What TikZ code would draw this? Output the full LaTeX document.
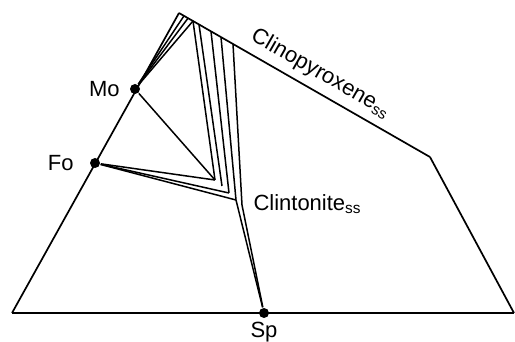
\documentclass[tikz,border=0pt]{standalone}
\usepackage{fontspec}
\setmainfont{Liberation Sans}
\usetikzlibrary{positioning}

\begin{document}
\begin{tikzpicture}[x=0.5pt, y=-0.5pt, font=\fontsize{11}{13}\selectfont,
    line width=0.85pt, line join=round,
    phase/.style={circle, fill, inner sep=0pt, minimum size=5pt},
    tie/.style={line width=0.75pt}]
  \useasboundingbox (0,0) rectangle (515,342);
  % outline of the section
  \coordinate (bl) at (12,313);
  \coordinate (br) at (514,313);
  \coordinate (apex) at (179,13);
  \coordinate (cpx) at (430,157);
  % phases
  \node[phase, label={[label distance=1pt]left:Mo}] (mo) at (135,89) {};
  \node[phase, label={[label distance=4pt]left:Fo}] (fo) at (95,163) {};
  \node[phase, label={[inner sep=1pt, label distance=0pt]below:Sp}] (sp) at (264,313) {};
  % clinopyroxene ss limbs
  \coordinate (m1) at (184,15.9);
  \coordinate (m2) at (188,18.2);
  \coordinate (p1) at (193,21);
  \coordinate (p2) at (199,24.5);
  \coordinate (p3) at (211,31.4);
  \coordinate (p4) at (221,37.1);
  \coordinate (p5) at (233,44);
  % clintonite ss points
  \coordinate (c1) at (215,180);
  \coordinate (c2) at (222,186);
  \coordinate (c3) at (229,193);
  \coordinate (c4) at (236,200);
  \coordinate (c5) at (242,205);
  \node[right] (cln) at (246,204) {Clintonite\textsubscript{ss}};

  \draw (bl) -- (br);
  \draw (bl) -- (apex);
  \draw (apex) -- node[sloped, above, pos=0.53] (cpxlab) {Clinopyroxene\textsubscript{ss}} (cpx);
  \draw (cpx) -- (br);

  % tie lines
  \draw[tie] (mo) -- (m1);
  \draw[tie] (mo) -- (m2);
  \draw[tie] (mo) -- (p1);
  \draw[tie] (mo) -- (c1);
  \draw[tie] (p1) -- (c1);
  \draw[tie] (p2) -- (c2);
  \draw[tie] (p3) -- (c3);
  \draw[tie] (p4) -- (c4);
  \draw[tie] (p5) -- (c5);
  \draw[tie] (fo) -- (c1);
  \draw[tie] (fo) -- (c3);
  \draw[tie] (fo) -- (c4);
  \draw[tie] (c4) -- (sp);
  \draw[tie] (c5) -- (sp);
\end{tikzpicture}
\end{document}
